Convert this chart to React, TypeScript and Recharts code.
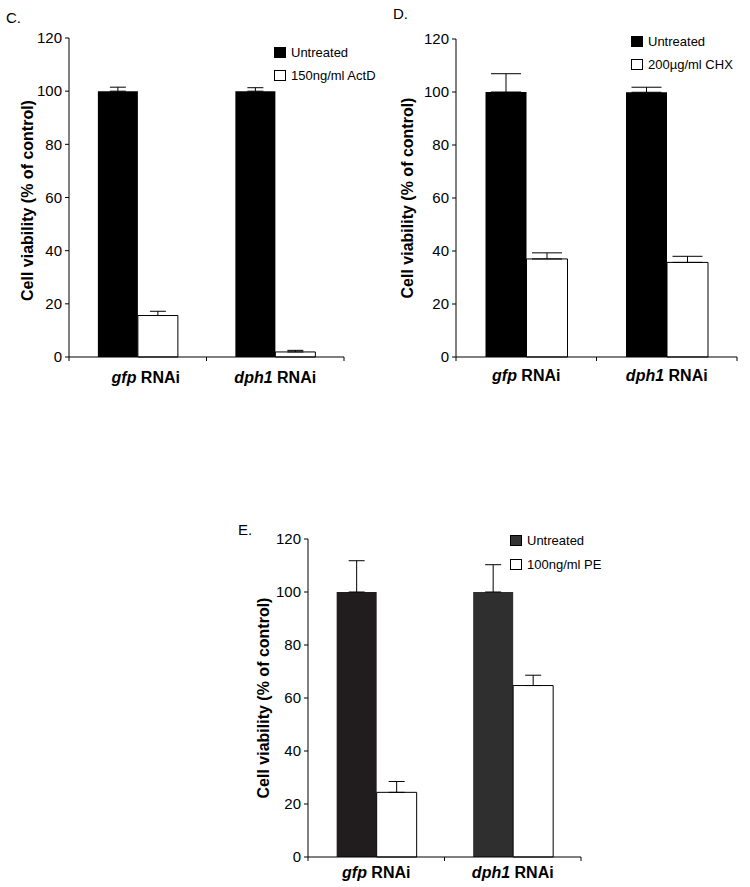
import React from "react";
import { BarChart, Bar, XAxis, YAxis, ErrorBar, Legend, Cell, Label } from "recharts";

const FONT = '"Liberation Sans", Arial, Helvetica, sans-serif';

const categories = ["gfp", "dph1"];
const yTicks = [0, 20, 40, 60, 80, 100, 120];

// panel C – actinomycin D
const untreatedC = [100, 100];
const untreatedErrC = [1.5, 1.3];
const actdC = [15.6, 1.9];
const actdErrC = [1.6, 0.6];

// panel D – cycloheximide
const untreatedD = [100, 99.9];
const untreatedErrD = [6.9, 1.9];
const chxD = [37.0, 35.7];
const chxErrD = [2.3, 2.3];

// panel E – Pseudomonas exotoxin
const untreatedE = [100, 100];
const untreatedErrE = [11.8, 10.3];
const peE = [24.4, 64.7];
const peErrE = [4.1, 3.9];

const buildRows = (ctrl: number[], ctrlErr: number[], trt: number[], trtErr: number[]) =>
  categories.map((c, i) => ({
    name: c,
    ctrl: ctrl[i],
    ctrlErr: [0, ctrlErr[i]],
    trt: trt[i],
    trtErr: [0, trtErr[i]],
  }));

function LegendBox({ payload, rowH }: any) {
  // untreated always first, like the original figure
  const items = [...(payload || [])].sort((a: any, b: any) =>
    a.dataKey === "ctrl" ? -1 : b.dataKey === "ctrl" ? 1 : 0
  );
  return (
    <div style={{ fontFamily: FONT, fontSize: 13, color: "#000", whiteSpace: "nowrap" }}>
      {items.map((item: any) => (
        <div key={item.value} style={{ display: "flex", alignItems: "center", height: rowH }}>
          <span
            style={{
              display: "inline-block",
              width: 12,
              height: 11,
              boxSizing: "border-box",
              background: item.color,
              border: "1px solid #000",
              marginRight: 5,
            }}
          />
          <span>{item.value}</span>
        </div>
      ))}
    </div>
  );
}

type PanelProps = {
  width: number;
  height: number;
  margin: { top: number; right: number; bottom: number; left: number };
  yWidth: number;
  labelX: number;
  labelDy: number;
  tickDy: number;
  tickDx?: number[];
  xHeight: number;
  rows: any[];
  treatedName: string;
  cap: number;
  legendTop: number;
  legendLeft: number;
  legendRow: number;
  ctrlFill: string;
  ctrlCells?: string[];
};

function Panel(p: PanelProps) {
  const plotW = p.width - p.margin.left - p.margin.right - p.yWidth;
  const fallbackHalf = plotW / categories.length / 2;

  const renderTick = (t: any) => {
    const { x, y, payload } = t;
    const half = typeof payload?.offset === "number" && payload.offset > 0 ? payload.offset : fallbackHalf;
    const dx = p.tickDx ? p.tickDx[payload.index] || 0 : 0;
    return (
      <g>
        {payload.index === 0 && <line x1={x - half} x2={x - half} y1={y} y2={y + 4} stroke="#000" />}
        <line x1={x + half} x2={x + half} y1={y} y2={y + 4} stroke="#000" />
        <text x={x + dx} y={y + p.tickDy} textAnchor="middle" fontFamily={FONT} fontSize={16} fontWeight="bold" fill="#000">
          <tspan fontStyle="italic">{payload.value}</tspan>
          <tspan>{" RNAi"}</tspan>
        </text>
      </g>
    );
  };

  const renderYLabel = (lp: any) => {
    const vb = lp.viewBox || { x: 0, y: 0, height: 0 };
    const x = vb.x + p.labelX;
    const y = vb.y + vb.height / 2 + p.labelDy;
    return (
      <text
        x={x}
        y={y}
        transform={`rotate(-90 ${x} ${y})`}
        textAnchor="middle"
        dominantBaseline="central"
        fontFamily={FONT}
        fontSize={16}
        fontWeight="bold"
        fill="#000"
      >
        Cell viability (% of control)
      </text>
    );
  };

  return (
    <BarChart width={p.width} height={p.height} data={p.rows} margin={p.margin} barCategoryGap="21%" barGap={0}>
      <XAxis
        dataKey="name"
        height={p.xHeight}
        axisLine={{ stroke: "#000" }}
        tickLine={false}
        tickSize={0}
        tickMargin={0}
        tick={renderTick}
        interval={0}
      />
      <YAxis
        width={p.yWidth}
        domain={[0, 120]}
        ticks={yTicks}
        axisLine={{ stroke: "#000" }}
        tickLine={{ stroke: "#000" }}
        tickSize={4}
        tickMargin={3}
        tick={{ fontFamily: FONT, fontSize: 15, fill: "#000" }}
      >
        <Label content={renderYLabel} />
      </YAxis>
      <Legend
        layout="vertical"
        align="center"
        verticalAlign="middle"
        wrapperStyle={{ top: p.legendTop, left: p.legendLeft, width: "auto", height: "auto" }}
        content={(lp: any) => <LegendBox payload={lp.payload} rowH={p.legendRow} />}
      />
      <Bar dataKey="ctrl" name="Untreated" fill={p.ctrlFill} isAnimationActive={false}>
        {p.ctrlCells && p.rows.map((_, i) => <Cell key={i} fill={p.ctrlCells![i]} />)}
        <ErrorBar dataKey="ctrlErr" width={p.cap} stroke="#000" strokeWidth={1} isAnimationActive={false} />
      </Bar>
      <Bar dataKey="trt" name={p.treatedName} fill="#fff" stroke="#000" strokeWidth={1} isAnimationActive={false}>
        <ErrorBar dataKey="trtErr" width={p.cap} stroke="#000" strokeWidth={1} isAnimationActive={false} />
      </Bar>
    </BarChart>
  );
}

const letterStyle: React.CSSProperties = {
  position: "absolute",
  fontFamily: FONT,
  fontSize: 15,
  lineHeight: "15px",
  color: "#000",
};

export default function App() {
  return (
    <div style={{ position: "absolute", left: 0, top: 0, width: 750, height: 887, background: "#fff", overflow: "hidden" }}>
      <div style={{ ...letterStyle, left: 6, top: 10 }}>C.</div>
      <div style={{ ...letterStyle, left: 393, top: 6 }}>D.</div>
      <div style={{ ...letterStyle, left: 238, top: 522 }}>E.</div>

      <div style={{ position: "absolute", left: 0, top: 0 }}>
        <Panel
          width={360}
          height={400}
          margin={{ top: 38, right: 16, bottom: 13, left: 0 }}
          yWidth={69}
          labelX={27}
          labelDy={3}
          tickDy={26}
          tickDx={[8, 0]}
          xHeight={30}
          rows={buildRows(untreatedC, untreatedErrC, actdC, actdErrC)}
          treatedName="150ng/ml ActD"
          cap={8}
          legendTop={41}
          legendLeft={274}
          legendRow={23}
          ctrlFill="#000"
        />
      </div>

      <div style={{ position: "absolute", left: 370, top: 0 }}>
        <Panel
          width={380}
          height={400}
          margin={{ top: 39, right: 13, bottom: 13, left: 0 }}
          yWidth={86}
          labelX={37}
          labelDy={0}
          tickDy={24}
          xHeight={30}
          rows={buildRows(untreatedD, untreatedErrD, chxD, chxErrD)}
          treatedName="200µg/ml CHX"
          cap={15}
          legendTop={30}
          legendLeft={261}
          legendRow={23}
          ctrlFill="#000"
        />
      </div>

      <div style={{ position: "absolute", left: 200, top: 440 }}>
        <Panel
          width={420}
          height={447}
          margin={{ top: 99, right: 39, bottom: 0, left: 0 }}
          yWidth={108}
          labelX={63}
          labelDy={0}
          tickDy={21}
          xHeight={30}
          rows={buildRows(untreatedE, untreatedErrE, peE, peErrE)}
          treatedName="100ng/ml PE"
          cap={8}
          legendTop={89}
          legendLeft={310}
          legendRow={23.5}
          ctrlFill="#333333"
          ctrlCells={["#211d1e", "#2f2f2f"]}
        />
      </div>
    </div>
  );
}
